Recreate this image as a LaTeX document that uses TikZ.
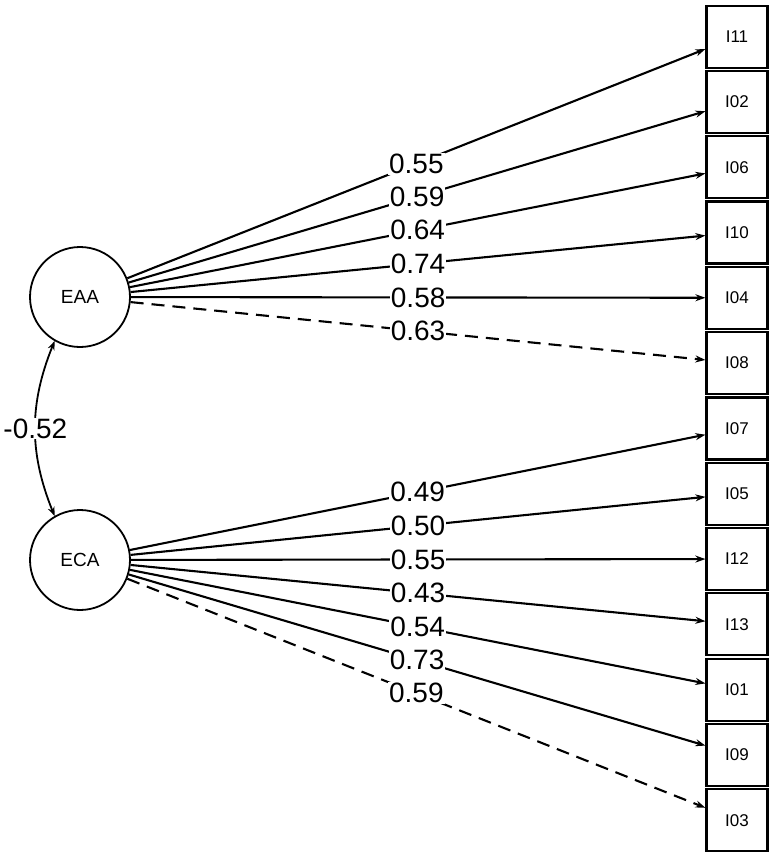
\documentclass[tikz,border=0pt]{standalone}
\usepackage{fontspec}
\setmainfont{Liberation Sans}
\usetikzlibrary{arrows.meta}
\begin{document}
\begin{tikzpicture}[x=1pt,y=-1pt,
  latent/.style={draw,line width=1.8pt,circle,minimum size=100pt,inner sep=0pt,font=\fontsize{19}{19}\selectfont},
  item/.style={draw,line width=2.2pt,minimum width=61pt,minimum height=62pt,inner sep=0pt,font=\fontsize{17}{17}\selectfont},
  load/.style={line width=2.1pt,-{Stealth[length=10pt,width=7pt]}},
  loaddash/.style={load,dash pattern=on 13pt off 8pt},
  lab/.style={fill=white,inner sep=1pt,font=\fontsize{28}{28}\selectfont}]
\useasboundingbox (0,0) rectangle (774,860);
\node[latent] (EAA) at (80,297) {EAA};
\node[latent] (ECA) at (80,560) {ECA};
\foreach \n [count=\i from 0] in {I11,I02,I06,I10,I04,I08,I07,I05,I12,I13,I01,I09,I03}
  \node[item] (\n) at (737,{36.6+65.3*\i}) {\n};
\draw[load] (EAA) -- node[lab,pos=0.5]{0.55} (I11);
\draw[load] (EAA) -- node[lab,pos=0.5]{0.59} (I02);
\draw[load] (EAA) -- node[lab,pos=0.5]{0.64} (I06);
\draw[load] (EAA) -- node[lab,pos=0.5]{0.74} (I10);
\draw[load] (EAA) -- node[lab,pos=0.5]{0.58} (I04);
\draw[loaddash] (EAA) -- node[lab,pos=0.5]{0.63} (I08);
\draw[load] (ECA) -- node[lab,pos=0.5]{0.49} (I07);
\draw[load] (ECA) -- node[lab,pos=0.5]{0.50} (I05);
\draw[load] (ECA) -- node[lab,pos=0.5]{0.55} (I12);
\draw[load] (ECA) -- node[lab,pos=0.5]{0.43} (I13);
\draw[load] (ECA) -- node[lab,pos=0.5]{0.54} (I01);
\draw[load] (ECA) -- node[lab,pos=0.5]{0.73} (I09);
\draw[loaddash] (ECA) -- node[lab,pos=0.5]{0.59} (I03);
\draw[line width=1.8pt,{Stealth[length=9pt,width=7pt]}-{Stealth[length=9pt,width=7pt]}]
  (EAA.240) to[bend right=22] node[lab,pos=0.5]{-0.52} (ECA.120);
\end{tikzpicture}
\end{document}
